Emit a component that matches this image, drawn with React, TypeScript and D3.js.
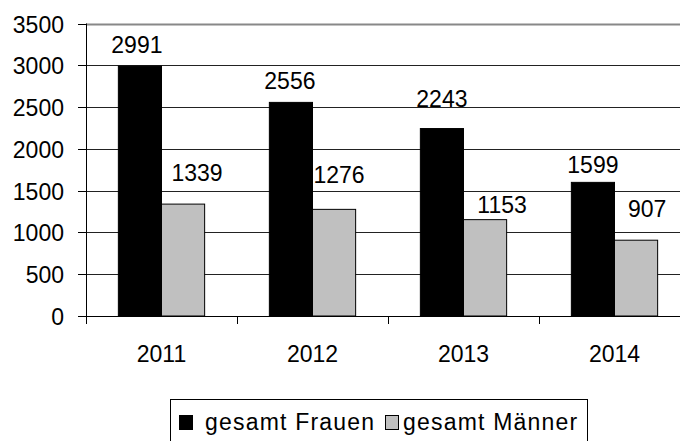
import React, { useRef, useEffect } from 'react';
import * as d3 from 'd3';

const WIDTH = 680;
const HEIGHT = 441;

// chart data
const years = ['2011', '2012', '2013', '2014'];
const frauen = [2991, 2556, 2243, 1599];
const maenner = [1339, 1276, 1153, 907];
const seriesNames = ['gesamt Frauen', 'gesamt Männer'];
const yTicks = [0, 500, 1000, 1500, 2000, 2500, 3000, 3500];

// label nudges (px) relative to bar centre / top, as placed in the original
const labelNudgeFrauen: [number, number][] = [[-3, -13], [-1, -13], [0, -22], [0, -9]];
const labelNudgeMaenner: [number, number][] = [[14, -23], [5, -26], [17, -7], [11, -23]];

const FONT = 'Liberation Sans, Arial, sans-serif';

const App: React.FC = () => {
  const svgRef = useRef<SVGSVGElement>(null);

  useEffect(() => {
    document.body.style.margin = '0';
    if (!svgRef.current) return;
    const svg = d3.select(svgRef.current);
    svg.selectAll('*').remove();

    const left = 86;
    const right = 690;
    const top = 23.5;
    const bottom = 316;

    const x = d3.scaleBand().domain(years).range([left, right]).padding(0);
    const y = d3.scaleLinear().domain([0, 3500]).range([bottom, top]);

    // horizontal gridlines (top one is the grey plot border)
    yTicks.forEach((t) => {
      if (t === 0) return;
      svg
        .append('line')
        .attr('x1', left)
        .attr('x2', WIDTH)
        .attr('y1', Math.round(y(t)) + 0.5)
        .attr('y2', Math.round(y(t)) + 0.5)
        .attr('stroke', t === 3500 ? '#888' : '#222')
        .attr('stroke-width', t === 3500 ? 2 : 1);
    });

    // bars, gap width 150%
    const bw = x.bandwidth() / 3.5;
    years.forEach((yr, i) => {
      const x0 = (x(yr) ?? 0) + bw * 0.75;
      svg
        .append('rect')
        .attr('x', x0)
        .attr('y', y(frauen[i]))
        .attr('width', bw)
        .attr('height', y(0) - y(frauen[i]))
        .attr('fill', '#000')
        .attr('stroke', '#000')
        .attr('stroke-width', 1);
      svg
        .append('rect')
        .attr('x', x0 + bw)
        .attr('y', y(maenner[i]))
        .attr('width', bw)
        .attr('height', y(0) - y(maenner[i]))
        .attr('fill', '#C0C0C0')
        .attr('stroke', '#000')
        .attr('stroke-width', 1);

      svg
        .append('text')
        .attr('x', x0 + bw / 2 + labelNudgeFrauen[i][0])
        .attr('y', y(frauen[i]) + labelNudgeFrauen[i][1])
        .attr('text-anchor', 'middle')
        .attr('font-family', FONT)
        .attr('font-size', '23px')
        .attr('fill', '#000')
        .text(String(frauen[i]));
      svg
        .append('text')
        .attr('x', x0 + bw * 1.5 + labelNudgeMaenner[i][0])
        .attr('y', y(maenner[i]) + labelNudgeMaenner[i][1])
        .attr('text-anchor', 'middle')
        .attr('font-family', FONT)
        .attr('font-size', '23px')
        .attr('fill', '#000')
        .text(String(maenner[i]));
    });

    // y axis
    svg
      .append('line')
      .attr('x1', left + 0.5)
      .attr('x2', left + 0.5)
      .attr('y1', top)
      .attr('y2', bottom)
      .attr('stroke', '#000');
    yTicks.forEach((t) => {
      const yy = Math.round(y(t)) + 0.5;
      svg
        .append('line')
        .attr('x1', left - 8)
        .attr('x2', left)
        .attr('y1', yy)
        .attr('y2', yy)
        .attr('stroke', '#000');
      svg
        .append('text')
        .attr('x', 64)
        .attr('y', yy)
        .attr('dy', '0.36em')
        .attr('text-anchor', 'end')
        .attr('font-family', FONT)
        .attr('font-size', '23px')
        .attr('fill', '#000')
        .text(String(t));
    });

    // x axis
    svg
      .append('line')
      .attr('x1', left)
      .attr('x2', WIDTH)
      .attr('y1', bottom + 0.5)
      .attr('y2', bottom + 0.5)
      .attr('stroke', '#000');
    years.forEach((yr) => {
      const xx = Math.round(x(yr) ?? 0) + 0.5;
      svg
        .append('line')
        .attr('x1', xx)
        .attr('x2', xx)
        .attr('y1', bottom)
        .attr('y2', bottom + 8)
        .attr('stroke', '#000');
      svg
        .append('text')
        .attr('x', (x(yr) ?? 0) + x.bandwidth() / 2)
        .attr('y', 362)
        .attr('text-anchor', 'middle')
        .attr('font-family', FONT)
        .attr('font-size', '23px')
        .attr('fill', '#000')
        .text(yr);
    });

    // legend
    const lg = svg.append('g');
    lg.append('rect')
      .attr('x', 170.5)
      .attr('y', 399.5)
      .attr('width', 417)
      .attr('height', 50)
      .attr('fill', '#fff')
      .attr('stroke', '#000');
    const swatch = ['#000', '#C0C0C0'];
    const itemX = [179, 385];
    const textX = [205, 403];
    seriesNames.forEach((name, i) => {
      lg.append('rect')
        .attr('x', itemX[i] + 0.5)
        .attr('y', 415.5)
        .attr('width', 13)
        .attr('height', 14)
        .attr('fill', swatch[i])
        .attr('stroke', '#000');
      lg.append('text')
        .attr('x', textX[i])
        .attr('y', 430)
        .attr('font-family', FONT)
        .attr('font-size', '23px')
        .attr('letter-spacing', '1.2px')
        .attr('fill', '#000')
        .text(name);
    });
  }, []);

  return <svg ref={svgRef} width={WIDTH} height={HEIGHT} style={{ display: 'block' }} />;
};

export default App;
